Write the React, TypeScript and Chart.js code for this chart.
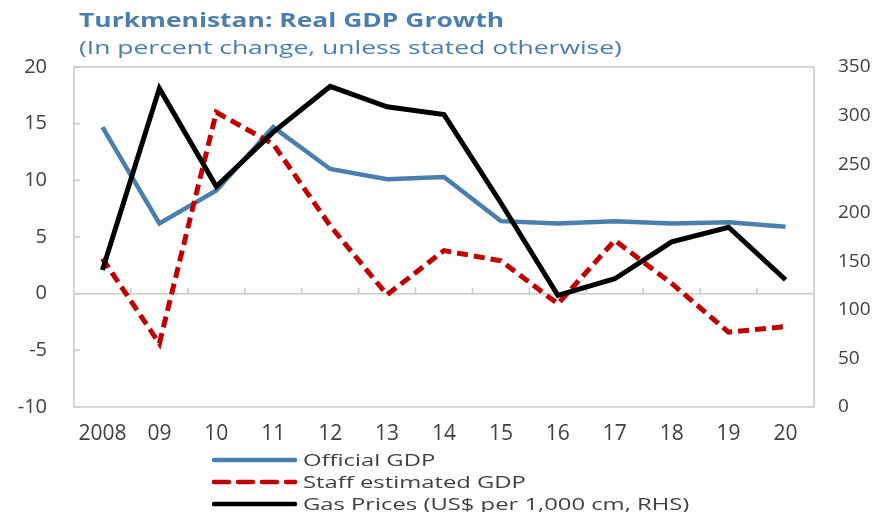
import React, { useEffect, useRef } from "react";
import { Chart, registerables } from "chart.js";

Chart.register(...registerables);

const categories = ["2008", "09", "10", "11", "12", "13", "14", "15", "16", "17", "18", "19", "20"];
const officialGDP = [14.7, 6.2, 9.1, 14.7, 11.0, 10.1, 10.3, 6.4, 6.2, 6.4, 6.2, 6.3, 5.9];
const staffGDP = [3.1, -4.4, 16.0, 13.2, 6.0, -0.1, 3.8, 2.9, -0.9, 4.7, 0.9, -3.4, -2.9];
const gasPrices = [141, 328, 227, 283, 330, 309, 301, 210, 115, 132, 170, 185, 131];
const leftTicks = [-10, -5, 0, 5, 10, 15, 20];
const rightTicks = [0, 50, 100, 150, 200, 250, 300, 350];

const BLUE = "#4a7fad";
const RED = "#c00000";
const BLACK = "#000000";
const FONT = "'Open Sans', 'Noto Sans', sans-serif";
const TICK_COLOR = "#404040";
const FRAME = "#c9c9c9";

const framePlugin = {
  id: "framePlugin",
  beforeDatasetsDraw(chart: any) {
    const { ctx, chartArea, scales } = chart;
    const { left, right, top, bottom } = chartArea;
    ctx.save();
    ctx.strokeStyle = FRAME;
    ctx.lineWidth = 1.5;
    ctx.strokeRect(left, top, right - left, bottom - top);
    const y0 = scales.y.getPixelForValue(0);
    ctx.beginPath();
    ctx.moveTo(left, y0);
    ctx.lineTo(right, y0);
    ctx.stroke();
    const n = categories.length;
    for (let i = 1; i < n; i++) {
      const x = (scales.x.getPixelForValue(i - 1) + scales.x.getPixelForValue(i)) / 2;
      ctx.beginPath();
      ctx.moveTo(x, y0);
      ctx.lineTo(x, y0 - 6);
      ctx.stroke();
    }
    for (const v of leftTicks) {
      const y = scales.y.getPixelForValue(v);
      ctx.beginPath();
      ctx.moveTo(left, y);
      ctx.lineTo(left + 6, y);
      ctx.stroke();
    }
    ctx.restore();
  },
};

export default function App() {
  const ref = useRef<HTMLCanvasElement>(null);

  useEffect(() => {
    if (!ref.current) return;
    const chart = new Chart(ref.current, {
      type: "line",
      data: {
        labels: categories,
        datasets: [
          {
            label: "Official GDP",
            data: officialGDP,
            borderColor: BLUE,
            backgroundColor: BLUE,
            borderWidth: 4.5,
            pointRadius: 0,
            tension: 0,
            yAxisID: "y",
            order: 3,
          },
          {
            label: "Staff estimated GDP",
            data: staffGDP,
            borderColor: RED,
            backgroundColor: RED,
            borderWidth: 5,
            borderDash: [11, 6],
            pointRadius: 0,
            tension: 0,
            yAxisID: "y",
            order: 2,
          },
          {
            label: "Gas Prices (US$ per 1,000 cm, RHS)",
            data: gasPrices,
            borderColor: BLACK,
            backgroundColor: BLACK,
            borderWidth: 5,
            pointRadius: 0,
            tension: 0,
            yAxisID: "y1",
            order: 1,
          },
        ],
      },
      options: {
        responsive: false,
        animation: false,
        maintainAspectRatio: false,
        layout: { padding: { top: 67, left: 0, right: 0, bottom: 0 } },
        plugins: {
          legend: { display: false },
          title: { display: false },
          tooltip: { enabled: false },
        },
        scales: {
          x: {
            offset: true,
            grid: { display: false, drawTicks: false },
            border: { display: false },
            ticks: {
              color: TICK_COLOR,
              font: { family: FONT, size: 21 },
              padding: 14,
              maxRotation: 0,
              autoSkip: false,
            },
            afterFit: (s: any) => {
              s.height = 105;
            },
          },
          y: {
            position: "left",
            min: -10,
            max: 20,
            afterBuildTicks: (s: any) => {
              s.ticks = leftTicks.map((v) => ({ value: v }));
            },
            grid: { display: false, drawTicks: false },
            border: { display: false },
            ticks: {
              color: TICK_COLOR,
              font: { family: FONT, size: 20 },
              padding: 27,
            },
            afterFit: (s: any) => {
              s.width = 74;
            },
          },
          y1: {
            position: "right",
            min: 0,
            max: 350,
            afterBuildTicks: (s: any) => {
              s.ticks = rightTicks.map((v) => ({ value: v }));
            },
            grid: { display: false, drawTicks: false },
            border: { display: false },
            ticks: {
              color: TICK_COLOR,
              font: { family: FONT, size: 19 },
              padding: 24,
            },
            afterFit: (s: any) => {
              s.width = 64;
            },
          },
        },
      },
      plugins: [framePlugin],
    });
    return () => chart.destroy();
  }, []);

  const legendItems = [
    { label: "Official GDP", color: BLUE, dash: false },
    { label: "Staff estimated GDP", color: RED, dash: true },
    { label: "Gas Prices (US$ per 1,000 cm, RHS)", color: BLACK, dash: false },
  ];

  return (
    <div
      style={{
        position: "absolute",
        left: 0,
        top: 0,
        width: 878,
        height: 512,
        overflow: "hidden",
        background: "#fff",
        fontFamily: FONT,
      }}
    >
      <canvas ref={ref} width={878} height={512} style={{ position: "absolute", left: 0, top: 0 }} />
      <div
        style={{
          position: "absolute",
          left: 79,
          top: 11,
          fontSize: 19,
          fontWeight: 700,
          color: BLUE,
          whiteSpace: "nowrap",
          lineHeight: 1,
          transform: "scaleX(1.39)",
          transformOrigin: "left center",
        }}
      >
        Turkmenistan: Real GDP Growth
      </div>
      <div
        style={{
          position: "absolute",
          left: 79,
          top: 38,
          fontSize: 18,
          color: BLUE,
          whiteSpace: "nowrap",
          lineHeight: 1,
          transform: "scaleX(1.47)",
          transformOrigin: "left center",
        }}
      >
        (In percent change, unless stated otherwise)
      </div>
      {legendItems.map((it, i) => (
        <div
          key={it.label}
          style={{
            position: "absolute",
            left: 212,
            top: 449 + i * 22,
            height: 22,
            display: "flex",
            alignItems: "center",
            whiteSpace: "nowrap",
          }}
        >
          <svg width={85} height={8} style={{ marginRight: 6 }}>
            <line
              x1={2}
              y1={4}
              x2={83}
              y2={4}
              stroke={it.color}
              strokeWidth={4.5}
              strokeLinecap="round"
              strokeDasharray={it.dash ? "15 9" : undefined}
            />
          </svg>
          <span
            style={{
              display: "inline-block",
              fontSize: 17,
              color: TICK_COLOR,
              lineHeight: "22px",
              transform: "scaleX(1.40)",
              transformOrigin: "left center",
            }}
          >
            {it.label}
          </span>
        </div>
      ))}
    </div>
  );
}
